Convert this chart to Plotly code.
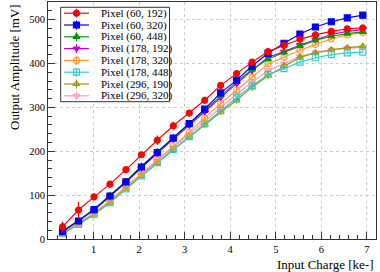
import plotly.graph_objects as go

charge = [0.32, 0.67, 1.01, 1.36, 1.71, 2.05, 2.40, 2.75, 3.10, 3.44,
          3.79, 4.14, 4.48, 4.83, 5.18, 5.53, 5.87, 6.22, 6.57, 6.91]

labels = ["Pixel (60, 192)", "Pixel (60, 320)", "Pixel (60, 448)", "Pixel (178, 192)",
          "Pixel (178, 320)", "Pixel (178, 448)", "Pixel (296, 190)", "Pixel (296, 320)"]

amp_60_192 = [28, 66, 96, 125, 158, 192, 225, 258, 287, 316, 350, 377, 403, 427, 441, 455, 465, 473, 479, 481]
amp_60_320 = [17, 41, 67, 98, 130, 164, 197, 230, 263, 296, 333, 362, 394, 423, 446, 467, 483, 495, 504, 510]
amp_60_448 = [18, 42, 68, 99, 131, 166, 199, 231, 262, 293, 327, 358, 386, 410, 425, 440, 453, 462, 468, 472]
amp_178_192 = [17, 41, 66, 97, 129, 162, 195, 228, 259, 290, 323, 354, 384, 414, 427, 442, 454, 466, 473, 477]
amp_178_320 = [13, 36, 59, 87, 118, 149, 180, 212, 243, 276, 309, 339, 369, 399, 414, 430, 443, 456, 465, 470]
amp_178_448 = [12, 33, 56, 83, 114, 144, 174, 204, 233, 262, 293, 322, 349, 375, 388, 403, 413, 420, 424, 426]
amp_296_190 = [12, 33, 56, 83, 114, 144, 173, 203, 232, 260, 289, 316, 346, 372, 394, 414, 424, 431, 436, 439]
amp_296_320 = [13, 34, 58, 85, 117, 147, 178, 208, 238, 268, 300, 330, 357, 384, 399, 416, 425, 431, 435, 436]

err_60_192 = [12, 19, 6, 4, 4, 5, 11, 9, 5, 8, 7, 6, 4, 4, 4, 4, 4, 4, 4, 4]
err_60_320 = [4, 4, 4, 4, 4, 4, 4, 4, 4, 4, 5, 5, 5, 8, 5, 4, 3, 3, 3, 3]
err_60_448 = [3, 3, 3, 3, 3, 3, 3, 3, 3, 3, 3, 3, 3, 3, 3, 3, 3, 3, 3, 3]
err_178_192 = [3, 3, 3, 3, 3, 3, 3, 3, 3, 3, 3, 3, 4, 4, 4, 3, 3, 3, 3, 3]
err_178_320 = [3, 3, 3, 3, 3, 3, 4, 4, 4, 5, 5, 5, 6, 6, 5, 4, 4, 4, 4, 4]
err_178_448 = [3, 3, 3, 3, 3, 3, 3, 3, 3, 3, 3, 3, 3, 3, 3, 3, 3, 3, 3, 3]
err_296_190 = [3, 3, 3, 3, 3, 3, 4, 5, 5, 6, 6, 7, 8, 8, 8, 7, 9, 5, 4, 4]
err_296_320 = [3, 3, 3, 3, 3, 3, 3, 3, 3, 4, 4, 4, 5, 5, 5, 5, 5, 4, 4, 4]

series = [amp_60_192, amp_60_320, amp_60_448, amp_178_192, amp_178_320, amp_178_448, amp_296_190, amp_296_320]
errors = [err_60_192, err_60_320, err_60_448, err_178_192, err_178_320, err_178_448, err_296_190, err_296_320]
colors = ["#FF0000", "#0000FF", "#009900", "#CC00CC", "#FF9933", "#33CCCC", "#999900", "#FF99CC"]
symbols = ["circle", "square", "triangle-up", "triangle-down",
           "circle-open", "square-open", "triangle-up-open", "triangle-down-open"]

SERIF = "Liberation Serif, Times New Roman, serif"

fig = go.Figure()
# draw in reverse so red is on top
for i in reversed(range(len(series))):
    fig.add_trace(go.Scatter(
        x=charge, y=series[i], mode="lines+markers", name=labels[i],
        line=dict(color=colors[i], width=1.2),
        marker=dict(symbol=symbols[i], size=6, color=colors[i],
                    line=dict(color=colors[i], width=1.2)),
        error_y=dict(type="data", array=errors[i], color=colors[i], thickness=1.2, width=0),
        showlegend=False,
    ))

# custom ROOT-style legend on an overlay axis (0..1 over the plot area)
W, H, L, T = 328.0, 237.0, 48.0, 2.0
def u(px):
    return (px - L) / W
def v(py):
    return 1 - (py - T) / H

box = (60.7, 7.3, 169.5, 101.7)
fig.add_trace(go.Scatter(
    x=[u(box[0]), u(box[2]), u(box[2]), u(box[0]), u(box[0])],
    y=[v(box[1]), v(box[1]), v(box[3]), v(box[3]), v(box[1])],
    xaxis="x2", yaxis="y2", mode="lines", fill="toself", fillcolor="white",
    line=dict(color="#333333", width=1), showlegend=False, hoverinfo="skip"))
row_h = (box[3] - box[1]) / len(labels)
for i, lab in enumerate(labels):
    cy = box[1] + row_h * (i + 0.5)
    fig.add_trace(go.Scatter(
        x=[u(64), u(76.5), u(89)], y=[v(cy)] * 3, xaxis="x2", yaxis="y2",
        mode="lines", line=dict(color=colors[i], width=1.2),
        showlegend=False, hoverinfo="skip"))
    fig.add_trace(go.Scatter(
        x=[u(76.5)], y=[v(cy)], xaxis="x2", yaxis="y2", mode="markers",
        marker=dict(symbol=symbols[i], size=6, color=colors[i],
                    line=dict(color=colors[i], width=1.2)),
        error_y=dict(type="constant", value=4.5 / H, color=colors[i], thickness=1.2, width=0),
        showlegend=False, hoverinfo="skip"))
    fig.add_annotation(xref="paper", yref="paper", x=u(98.5), y=v(cy),
                       xanchor="left", yanchor="middle", text=lab, showarrow=False,
                       font=dict(family=SERIF, size=11, color="black"))

fig.add_annotation(xref="paper", yref="paper", x=1, y=0, xanchor="right", yanchor="middle",
                   yshift=-25, text="Input Charge [ke-]", showarrow=False,
                   font=dict(family=SERIF, size=13, color="black"))
fig.add_annotation(xref="paper", yref="paper", x=0, y=1, xanchor="center", yanchor="top",
                   xshift=-34, text="Output Amplitude [mV]", showarrow=False, textangle=-90,
                   font=dict(family=SERIF, size=13, color="black"))

fig.update_layout(
    width=380, height=272,
    margin=dict(l=48, r=4, t=2, b=33),
    paper_bgcolor="white", plot_bgcolor="white",
    font=dict(family=SERIF, size=10.5, color="black"),
    showlegend=False,
    xaxis=dict(range=[0, 7.2], tickvals=[1, 2, 3, 4, 5, 6, 7], ticks="inside", ticklen=7,
               tickcolor="#333333", showline=True, linecolor="#333333", linewidth=1, mirror=True,
               showgrid=True, gridcolor="#cccccc", griddash="dot", gridwidth=1, zeroline=False,
               minor=dict(dtick=0.2, tick0=0, ticks="inside", ticklen=4, tickcolor="#333333", showgrid=False),
               tickfont=dict(family=SERIF, size=10.5)),
    yaxis=dict(range=[0, 540], tickvals=[0, 100, 200, 300, 400, 500], ticks="inside", ticklen=7,
               tickcolor="#333333", showline=True, linecolor="#333333", linewidth=1, mirror=True,
               showgrid=True, gridcolor="#cccccc", griddash="dot", gridwidth=1, zeroline=False,
               minor=dict(dtick=20, tick0=0, ticks="inside", ticklen=4, tickcolor="#333333", showgrid=False),
               tickfont=dict(family=SERIF, size=10.5)),
    xaxis2=dict(overlaying="x", range=[0, 1], visible=False, fixedrange=True),
    yaxis2=dict(overlaying="y", range=[0, 1], visible=False, fixedrange=True),
)

fig.write_html("out.html", config={"displayModeBar": False},
               post_script="document.body.style.margin='0';document.body.style.padding='0';")
